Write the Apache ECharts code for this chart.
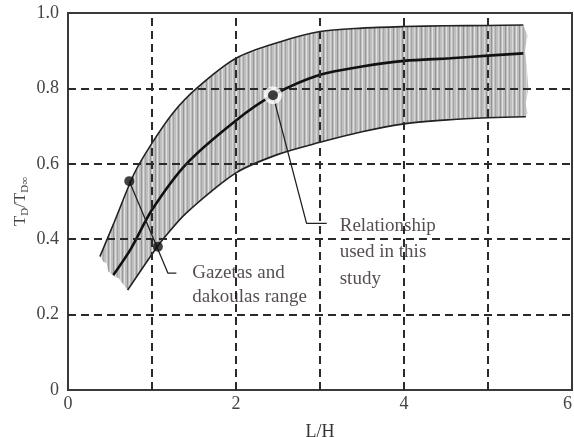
<!DOCTYPE html>
<html>
<head>
<meta charset="utf-8">
<script src="https://cdn.jsdelivr.net/npm/echarts@6/dist/echarts.min.js"></script>
<style>
  html, body { margin: 0; padding: 0; background: #fff; }
  #chart { width: 574px; height: 437px; }
</style>
</head>
<body>
<div id="chart"></div>
<script>
// Range curves (upper / lower bound) and the relationship used
var upperX = [0.38, 0.55, 0.79, 1.0, 1.25, 1.53, 2.0, 2.5, 3.0, 3.5, 4.0, 4.5, 5.0, 5.42];
var upperY = [0.354, 0.445, 0.575, 0.655, 0.735, 0.80, 0.88, 0.922, 0.951, 0.960, 0.964, 0.966, 0.967, 0.968];
var middleX = [0.54, 0.75, 1.0, 1.41, 2.0, 2.44, 3.0, 3.5, 4.0, 4.55, 5.0, 5.42];
var middleY = [0.305, 0.375, 0.478, 0.60, 0.715, 0.782, 0.836, 0.858, 0.873, 0.880, 0.887, 0.893];
var lowerX = [0.71, 1.0, 1.15, 1.41, 2.0, 2.5, 3.0, 3.5, 4.0, 4.55, 5.0, 5.45];
var lowerY = [0.265, 0.36, 0.405, 0.47, 0.576, 0.625, 0.657, 0.685, 0.706, 0.717, 0.722, 0.725];

// Ragged ends of the shaded band
var bandRightX = [5.47, 5.44, 5.46, 5.48, 5.45, 5.47];
var bandRightY = [0.94, 0.90, 0.86, 0.80, 0.76, 0.735];
var bandLeftX = [0.60, 0.56, 0.48, 0.46, 0.42];
var bandLeftY = [0.297, 0.30, 0.314, 0.336, 0.34];

// Marked points and their pointer lines
var rangeDotX = [0.73, 1.07];
var rangeDotY = [0.554, 0.38];
var rangePointerX = [0.73, 1.19, 1.29];
var rangePointerY = [0.554, 0.31, 0.31];
var studyDot = [2.44, 0.782];
var studyPointerX = [2.44, 2.84, 3.08];
var studyPointerY = [0.782, 0.442, 0.442];

var gridX = [1, 2, 3, 4, 5];
var gridY = [0.2, 0.4, 0.6, 0.8];

function pairs(xs, ys) {
    return xs.map(function(x, i) { return [x, ys[i]]; });
}

// Hatched fill: grey with vertical stripes
function makeHatch() {
    var c = document.createElement('canvas');
    c.width = 14; c.height = 4;
    var ctx = c.getContext('2d');
    ctx.fillStyle = '#bebebe';
    ctx.fillRect(0, 0, 14, 4);
    var stripes = [[1, '#939393'], [3, '#dedede'], [5, '#a6a6a6'], [8, '#d8d8d8'], [10, '#9a9a9a'], [12, '#e2e2e2']];
    stripes.forEach(function(s) {
        ctx.fillStyle = s[1];
        ctx.fillRect(s[0], 0, 1, 4);
    });
    return c;
}

var bandPoly = pairs(upperX, upperY)
    .concat(pairs(bandRightX, bandRightY))
    .concat(pairs(lowerX, lowerY).reverse())
    .concat(pairs(bandLeftX, bandLeftY));

var serif = '"Liberation Serif", "DejaVu Serif", serif';
var chart = echarts.init(document.getElementById('chart'));

chart.setOption({
    animation: false,
    grid: {
        left: 68, top: 13, right: 2, bottom: 47,
        containLabel: false, outerBoundsMode: 'none',
        show: true, borderColor: '#3a3a3a', borderWidth: 2
    },
    xAxis: {
        type: 'value', min: 0, max: 6, interval: 1,
        name: 'L/H', nameLocation: 'middle', nameGap: 33, nameMoveOverlap: false,
        nameTextStyle: { fontFamily: serif, fontSize: 18, color: '#333' },
        axisLine: { lineStyle: { color: '#3a3a3a', width: 2 } },
        axisTick: { show: false },
        splitLine: { show: false },
        axisLabel: {
            fontFamily: serif, fontSize: 18, color: '#444', margin: 5,
            alignMaxLabel: 'right',
            formatter: function(v) { return v % 2 === 0 ? String(v) : ''; }
        }
    },
    yAxis: {
        type: 'value', min: 0, max: 1, interval: 0.2,
        name: '{m|T}{s|D}{m|/T}{s|D∞}', nameLocation: 'middle', nameGap: 37, nameRotate: 90,
        nameMoveOverlap: false,
        nameTextStyle: {
            fontFamily: serif, color: '#444',
            rich: {
                m: { fontFamily: serif, fontSize: 17, color: '#444', lineHeight: 20 },
                s: { fontFamily: serif, fontSize: 11, color: '#444', lineHeight: 20, verticalAlign: 'bottom', padding: [6, 0, 0, 0] }
            }
        },
        axisLine: { lineStyle: { color: '#3a3a3a', width: 2 } },
        axisTick: { show: false },
        splitLine: { show: false },
        axisLabel: {
            fontFamily: serif, fontSize: 18, color: '#444', margin: 9,
            formatter: function(v) { return v === 0 ? '0' : v.toFixed(1); }
        }
    },
    series: [
        {
            // shaded range band
            type: 'custom',
            z: 1,
            data: [0],
            renderItem: function(params, api) {
                return {
                    type: 'polygon',
                    shape: { points: bandPoly.map(function(p) { return api.coord(p); }) },
                    style: { fill: { image: makeHatch(), repeat: 'repeat' }, stroke: null }
                };
            }
        },
        {
            // dashed grid on top of the band
            type: 'line', data: [], z: 3,
            markLine: {
                silent: true, symbol: 'none', label: { show: false },
                lineStyle: { type: [8, 5], color: '#2a2a2a', width: 2 },
                data: gridX.map(function(v) { return { xAxis: v }; })
                    .concat(gridY.map(function(v) { return { yAxis: v }; }))
            }
        },
        {
            type: 'line', data: pairs(upperX, upperY), smooth: 0.3, showSymbol: false, z: 4,
            lineStyle: { color: '#222', width: 1.6 }
        },
        {
            type: 'line', data: pairs(lowerX, lowerY), smooth: 0.3, showSymbol: false, z: 4,
            lineStyle: { color: '#222', width: 1.6 }
        },
        {
            type: 'line', data: pairs(middleX, middleY), smooth: 0.3, showSymbol: false, z: 4,
            lineStyle: { color: '#111', width: 2.6 }
        },
        {
            type: 'line', data: pairs(rangePointerX, rangePointerY), showSymbol: false, z: 5,
            lineStyle: { color: '#222', width: 1.3 }
        },
        {
            type: 'line', data: pairs(studyPointerX, studyPointerY), showSymbol: false, z: 5,
            lineStyle: { color: '#222', width: 1.3 }
        },
        {
            type: 'scatter', data: [studyDot], symbolSize: 18, z: 6,
            itemStyle: { color: '#fff' }
        },
        {
            type: 'scatter', data: pairs(rangeDotX, rangeDotY).concat([studyDot]), symbolSize: 10, z: 7,
            itemStyle: { color: '#111' }
        },
        {
            // annotation texts, anchored at the pointer ends
            type: 'scatter', symbolSize: 0, z: 8,
            data: [
                { value: [rangePointerX[2], rangePointerY[2]], name: 'Gazetas and\ndakoulas range',
                  label: { position: [16, -12], lineHeight: 24 } },
                { value: [studyPointerX[2], studyPointerY[2]], name: 'Relationship\nused in this\nstudy',
                  label: { position: [13, -11], lineHeight: 26.5 } }
            ],
            label: {
                show: true, formatter: '{b}', align: 'left', verticalAlign: 'top',
                fontFamily: serif, fontSize: 19, color: '#2b2222'
            }
        }
    ]
});
</script>
</body>
</html>
